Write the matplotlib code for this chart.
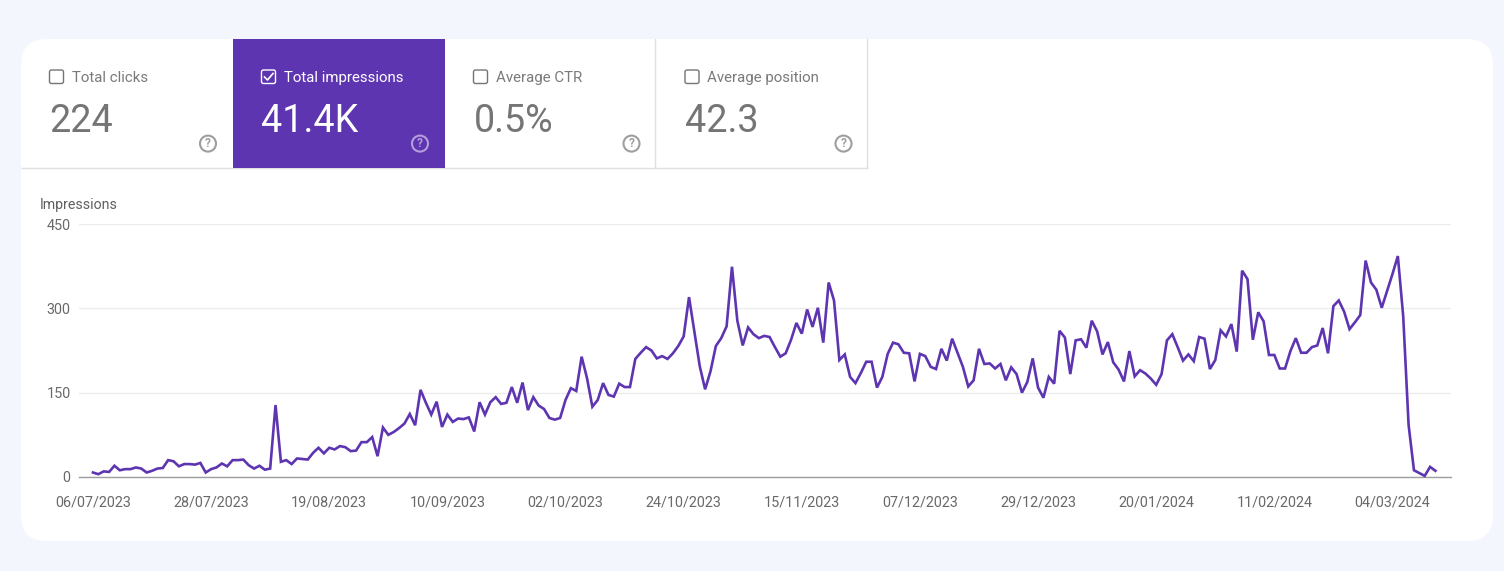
import pandas as pd
import matplotlib
matplotlib.use('Agg')
import matplotlib.pyplot as plt
from matplotlib.patches import FancyBboxPatch, Rectangle, Circle

plt.rcParams['font.family'] = ['Roboto', 'DejaVu Sans']

start_date = '2023-07-06'

impressions = [
    8, 5, 10, 9, 20, 12, 14, 14, 17, 15, 8, 11, 15, 16, 30, 28, 19, 23, 23, 22,
    25, 8, 14, 17, 24, 19, 30, 30, 31, 21, 15, 20, 13, 15, 128, 27, 30, 23, 33, 32,
    31, 43, 52, 42, 52, 49, 55, 53, 46, 47, 62, 62, 71, 37, 88, 75, 80, 87, 95, 112,
    92, 155, 132, 111, 134, 89, 111, 98, 104, 103, 106, 81, 133, 111, 133, 142, 130, 132, 160, 132,
    168, 119, 142, 127, 121, 105, 102, 105, 137, 158, 153, 214, 176, 125, 137, 167, 146, 143, 166, 160,
    160, 210, 221, 231, 225, 211, 215, 210, 220, 233, 250, 320, 258, 197, 156, 188, 233, 247, 268, 374,
    278, 234, 266, 254, 247, 251, 249, 231, 214, 220, 244, 274, 255, 298, 267, 301, 239, 346, 314, 208,
    218, 178, 167, 185, 205, 205, 159, 178, 219, 239, 236, 221, 220, 170, 219, 215, 196, 192, 228, 207,
    246, 221, 196, 161, 172, 228, 201, 202, 193, 201, 172, 195, 183, 150, 169, 211, 159, 141, 178, 166,
    260, 248, 183, 243, 245, 230, 278, 259, 218, 240, 204, 191, 170, 224, 179, 190, 184, 175, 164, 183,
    243, 254, 231, 207, 218, 206, 249, 246, 192, 208, 261, 250, 272, 223, 367, 352, 244, 293, 277, 217,
    217, 193, 193, 224, 247, 221, 221, 231, 234, 265, 220, 304, 314, 294, 263, 275, 288, 385, 346, 333,
    301, 331, 361, 393, 286, 93, 12, 7, 2, 18, 11,
]

date_labels = ['06/07/2023', '28/07/2023', '19/08/2023', '10/09/2023', '02/10/2023', '24/10/2023',
               '15/11/2023', '07/12/2023', '29/12/2023', '20/01/2024', '11/02/2024', '04/03/2024']
y_ticks = [0, 150, 300, 450]

tab_names = ['Total clicks', 'Total impressions', 'Average CTR', 'Average position']
tab_values = ['224', '41.4K', '0.5%', '42.3']
tab_edges = [21, 233, 445, 655, 867]
help_x = [208, 420, 631.5, 843.5]
box_x = [49.5, 261.5, 473.5, 685]

PURPLE = '#5e35b1'
GREY = '#757575'

W, H = 1504, 571
fig = plt.figure(figsize=(W / 100, H / 100), dpi=100, facecolor='#f3f6fd')

# page layer, in pixels with the origin top left
bg = fig.add_axes([0, 0, 1, 1])
bg.set_xlim(0, W)
bg.set_ylim(H, 0)
bg.axis('off')

card = FancyBboxPatch((21, 39), 1472, 502, boxstyle='round,pad=0,rounding_size=26',
                      fc='white', ec='none')
bg.add_patch(card)

# bottom line of the tabs
bg.plot([21, 868], [167.5, 167.5], color='#e0e0e0', lw=1, solid_capstyle='butt')

for i, name in enumerate(tab_names):
    x0, x1 = tab_edges[i], tab_edges[i + 1]
    selected = i == 1
    fg = 'white' if selected else GREY
    if selected:
        bg.add_patch(Rectangle((x0, 39), x1 - x0, 129, fc=PURPLE, ec='none', zorder=2))
    elif i > 1:
        bg.plot([x1 - 0.1, x1 - 0.1], [39, 168], color='#e0e0e0', lw=1, zorder=1)

    bx = box_x[i]
    bg.add_patch(FancyBboxPatch((bx, 70), 14, 13.5, boxstyle='round,pad=0,rounding_size=2',
                                fc='none', ec=fg, lw=1.0, zorder=3))
    if selected:
        bg.plot([bx + 3, bx + 6, bx + 11.5], [77, 80, 73.5], color='white', lw=1.2, zorder=3)

    bg.text(bx + 22, 77.8, name, color='white' if selected else '#7a7a7a', fontsize=10.8,
            va='center', ha='left', zorder=3)
    bg.text(bx, 121, tab_values[i], color=fg, fontsize=27.2, va='center', ha='left', zorder=3)

    # help icon
    qc = '#b39ddb' if selected else '#9e9e9e'
    bg.add_patch(Circle((help_x[i], 143.6), 8, fc='none', ec=qc, lw=1.5, zorder=3))
    bg.text(help_x[i], 143.9, '?', color=qc, fontsize=8.5, fontweight='bold', va='center', ha='center', zorder=3)

bg.text(40, 205, 'Impressions', color='#5f5f5f', fontsize=10.2, va='center', ha='left')

# chart itself
ax = fig.add_axes([79 / W, 1 - 477 / H, (1451 - 79) / W, 253 / H])
ax.patch.set_alpha(0)

dates = pd.date_range(start_date, periods=len(impressions))
tick_dates = pd.to_datetime(date_labels, dayfirst=True)
ax.plot(dates, impressions, color=PURPLE, lw=1.9, solid_joinstyle='miter', zorder=3, clip_on=False)

ax.set_ylim(0, 450)
ax.set_xlim(dates[0] - pd.Timedelta(days=2.6), dates[0] + pd.Timedelta(days=252.9))
ax.set_yticks(y_ticks)
ax.set_xticks(tick_dates)
ax.set_xticklabels(date_labels)
ax.grid(axis='y', color='#ececec', lw=1)
ax.set_axisbelow(True)
ax.tick_params(axis='both', length=0, labelsize=10.4, labelcolor='#696969')
ax.tick_params(axis='x', pad=13.5)
ax.tick_params(axis='y', pad=6)
for side in ['top', 'right', 'left']:
    ax.spines[side].set_visible(False)
ax.spines['bottom'].set_color('#9e9e9e')
ax.spines['bottom'].set_linewidth(1)

fig.savefig('out.png', dpi=100, facecolor=fig.get_facecolor())
